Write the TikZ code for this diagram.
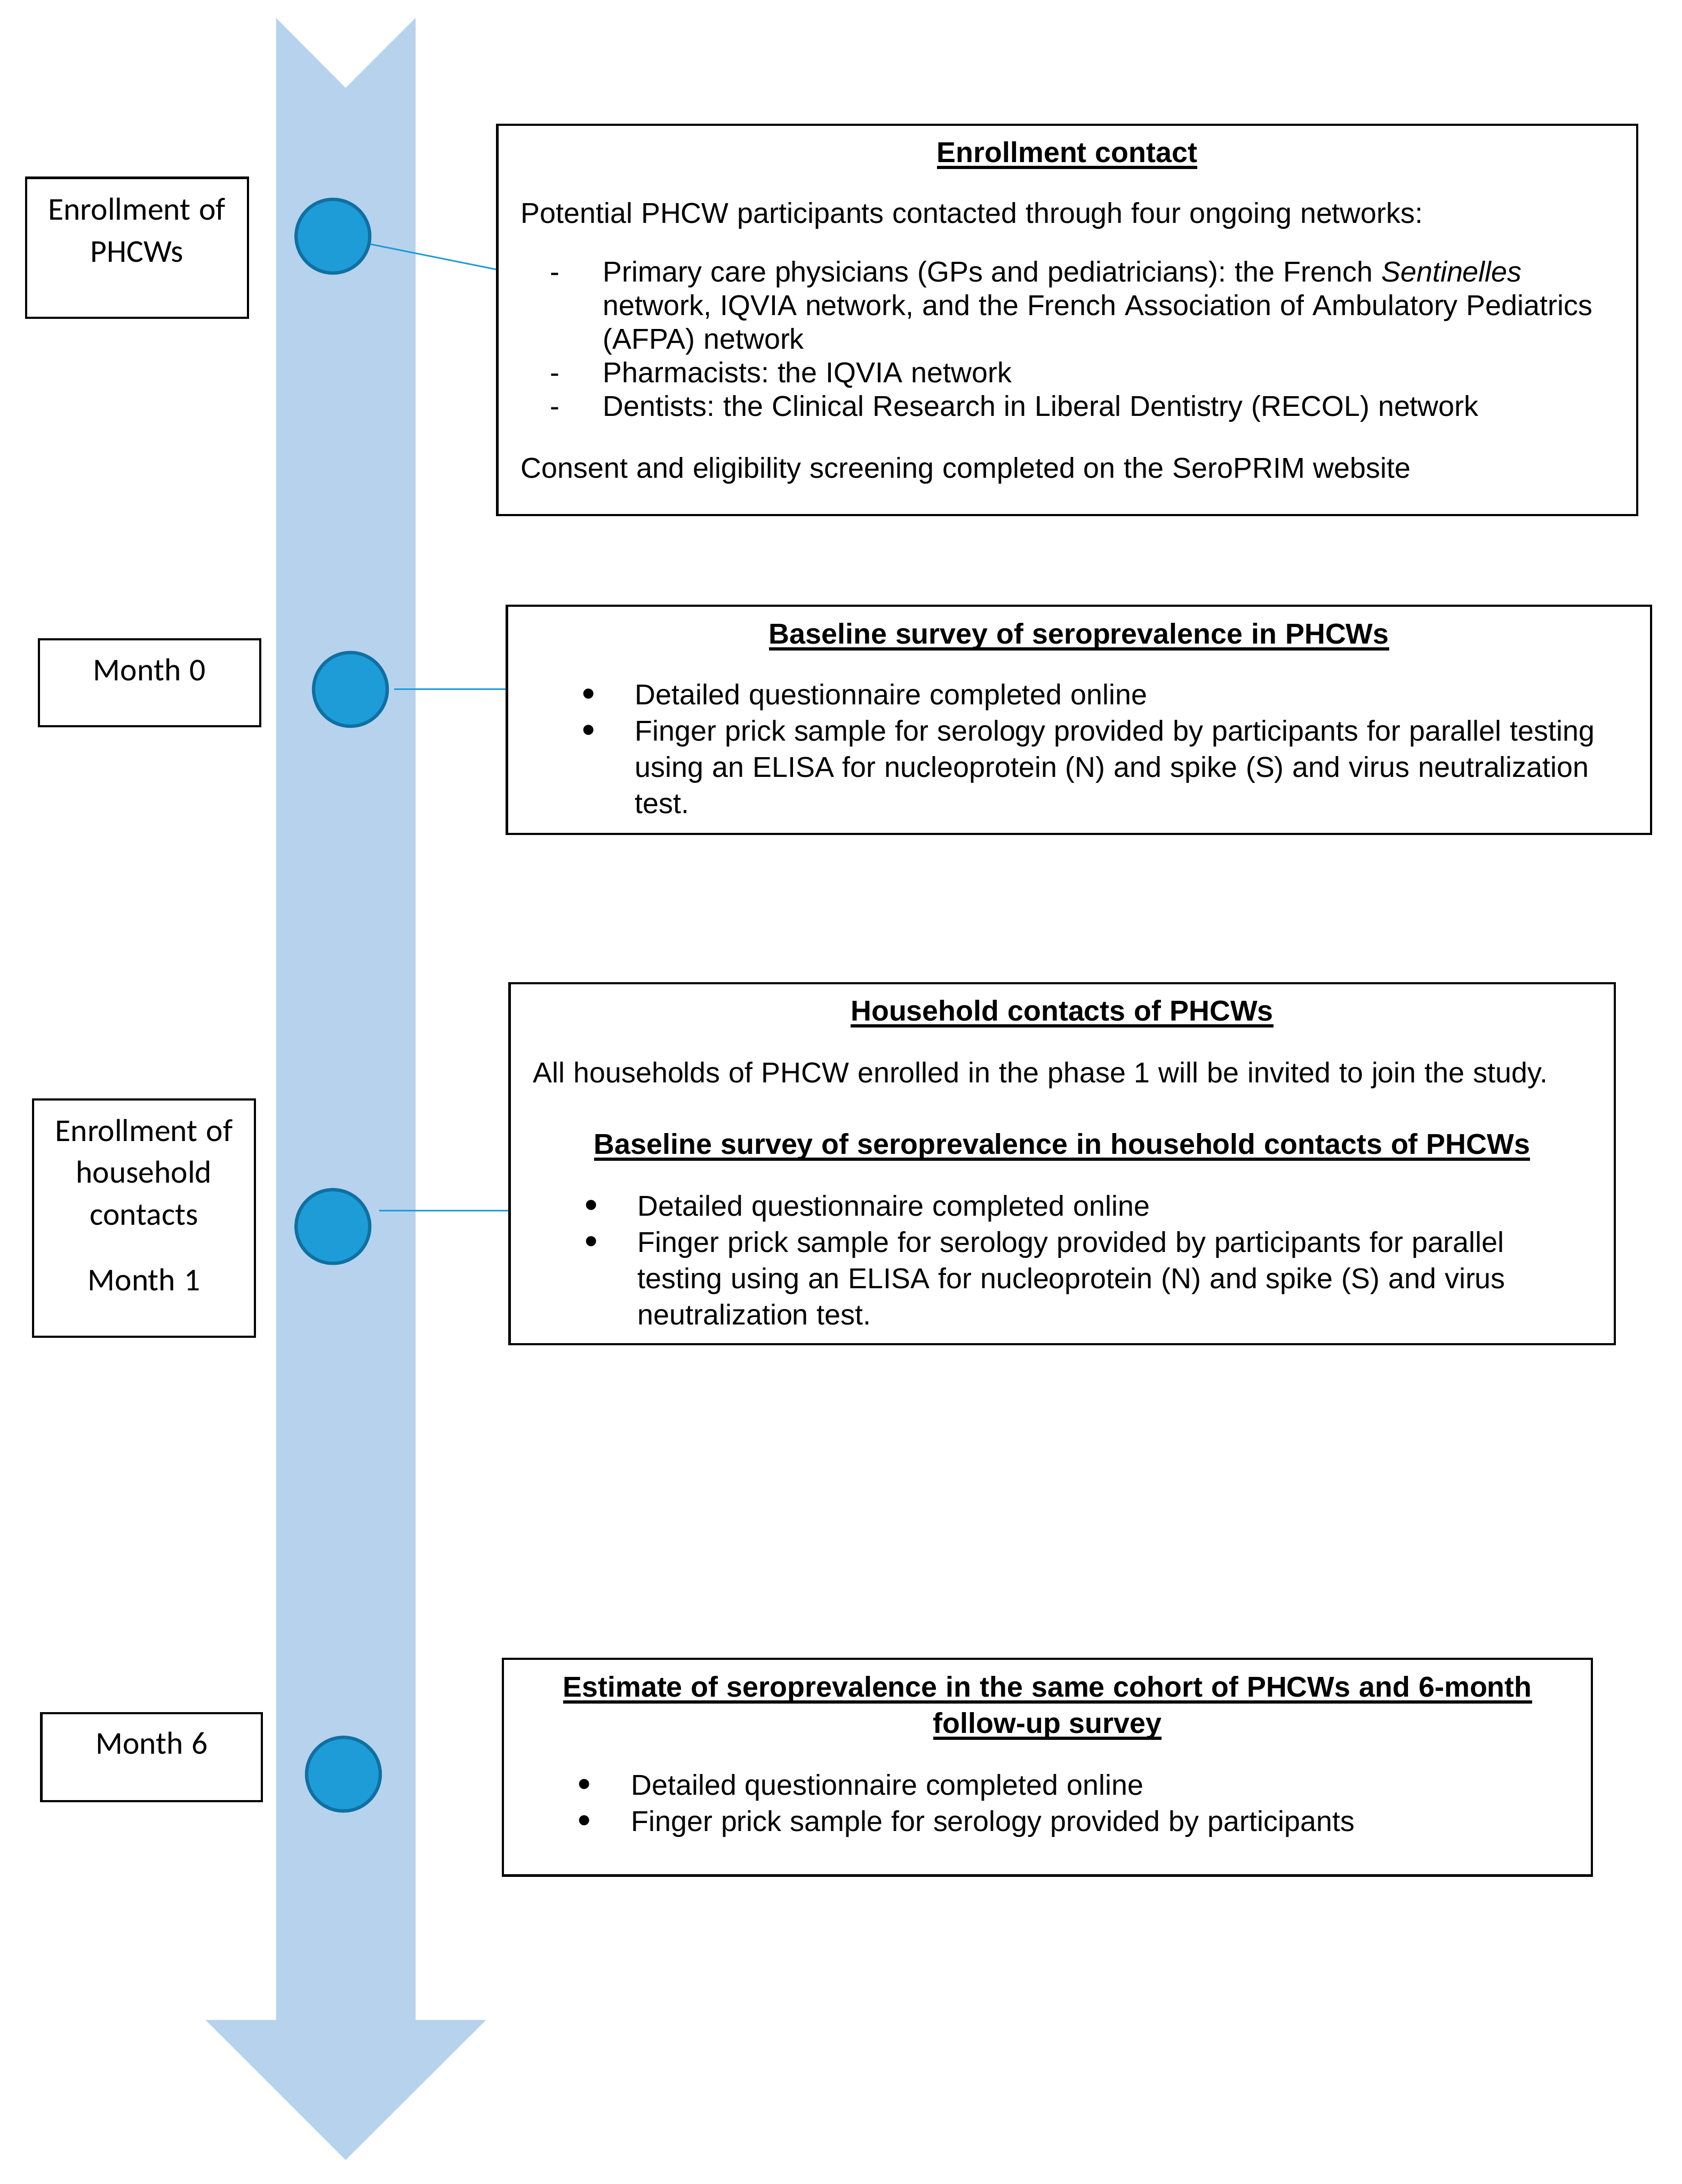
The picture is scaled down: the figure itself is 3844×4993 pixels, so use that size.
\documentclass[tikz,border=0pt]{standalone}
\usepackage{fontspec}
\setmainfont{Liberation Sans}
\newfontfamily\calibri{Carlito}
\usepackage{graphicx}
\usetikzlibrary{calc}
\frenchspacing

\definecolor{timelineblue}{HTML}{B7D2EC}
\definecolor{dotblue}{HTML}{1E9CD8}
\definecolor{dotedge}{HTML}{0F70A2}

% underlined bold heading, Word style
\newsavebox{\headbox}
\newcommand{\headline}[1]{\leavevmode\sbox{\headbox}{\bfseries #1}\rlap{\rule[-2.56pt]{\wd\headbox}{1.2pt}}\usebox{\headbox}}
% #1 mark offset, #2 text offset, #3 mark, #4 text
\newcommand{\markitem}[4]{{\leftskip=#2\relax\noindent\llap{\makebox[\dimexpr#2-#1\relax][l]{#3}}#4\par}}
\newcommand{\dashitem}[1]{\markitem{4.02mm}{11.28mm}{-}{#1}}
\newcommand{\dotitem}[1]{\markitem{7.05mm}{14.34mm}{\raisebox{-0.1ex}{\scalebox{1.3}{\textbullet}}}{#1}}

\tikzset{
  timeline/.style={fill=timelineblue},
  milestone/.style={circle, fill=dotblue, draw=dotedge, line width=1.3pt, minimum size=10.1mm, inner sep=0pt},
  link/.style={draw=dotblue, line width=0.6pt},
  datebox/.style={draw, line width=0.9pt, anchor=north west, inner sep=0pt, align=center,
    execute at begin node={\calibri\fontsize{12.4pt}{5.76mm}\selectfont}},
  infobox/.style={draw, line width=0.9pt, anchor=north west, inner xsep=3.24mm, inner ysep=0pt,
    execute at begin node={\fontsize{11.2pt}{4.98mm}\selectfont}},
}

\begin{document}
\begin{tikzpicture}[x=0.06mm, y=-0.06mm]
\useasboundingbox (0,0) rectangle (3844,4993);

\fill[timeline] (631,41) -- (790,201) -- (950,41) -- (950,4618) -- (1111,4618)
  -- (790,4938) -- (470,4618) -- (631,4618) -- cycle;

% left column
\node[datebox, text width=30.42mm, text height=5.76mm, text depth=13.44mm] (enrolphcw) at (57,404) {Enrollment of\\PHCWs};
\node[datebox, text width=30.36mm, text height=5.64mm, text depth=6.3mm] (month0) at (86,1459) {Month 0};
\node[datebox, text width=30.42mm, text height=5.7mm, text depth=26.82mm] (enrolhh) at (73,2511) {Enrollment of\\household\\contacts\\[3.24mm]Month 1};
\node[datebox, text width=30.24mm, text height=5.58mm, text depth=6.48mm] (month6) at (92,3914) {Month 6};

% milestones
\foreach \n/\x/\y in {1/761/540, 2/801/1576, 3/761/2804, 4/785/4056}
  \node[milestone] (t\n) at (\x,\y) {};

% right column
\node[infobox, text width=149.82mm, text height=5.16mm, text depth=48.36mm,
  execute at begin node={\fontsize{11.2pt}{4.62mm}\selectfont}] (contact) at (1134,283) {%
  {\centering\headline{Enrollment contact}\par}\vspace{3.66mm}%
  Potential PHCW participants contacted through four ongoing networks:\par\vspace{3.42mm}%
  \dashitem{Primary care physicians (GPs and pediatricians): the French \textit{Sentinelles}\\network, IQVIA network, and the French Association of Ambulatory Pediatrics\\(AFPA) network}%
  \dashitem{Pharmacists: the IQVIA network}%
  \dashitem{Dentists: the Clinical Research in Liberal Dentistry (RECOL) network}%
  \vspace{3.84mm}%
  Consent and eligibility screening completed on the SeroPRIM website};

\node[infobox, text width=150.42mm, text height=5.22mm, text depth=26.1mm] (baseline) at (1156,1382) {%
  {\centering\headline{Baseline survey of seroprevalence in PHCWs}\par}\vspace{3.36mm}%
  \dotitem{Detailed questionnaire completed online}%
  \dotitem{Finger prick sample for serology provided by participants for parallel testing\\using an ELISA for nucleoprotein (N) and spike (S) and virus neutralization\\test.}};

\node[infobox, text width=145.08mm, text height=5.16mm, text depth=44.34mm] (household) at (1162,2245) {%
  {\centering\headline{Household contacts of PHCWs}\par}\vspace{3.54mm}%
  All households of PHCW enrolled in the phase 1 will be invited to join the study.\par\vspace{4.8mm}%
  {\centering\headline{Baseline survey of seroprevalence in household contacts of PHCWs}\par}\vspace{3.48mm}%
  \dotitem{Detailed questionnaire completed online}%
  \dotitem{Finger prick sample for serology provided by participants for parallel\\testing using an ELISA for nucleoprotein (N) and spike (S) and virus\\neutralization test.}};

\node[infobox, text width=142.86mm, text height=5.22mm, text depth=24.48mm] (followup) at (1147,3790) {%
  {\centering\headline{Estimate of seroprevalence in the same cohort of PHCWs and 6-month}\\\headline{follow-up survey}\par}\vspace{3.48mm}%
  \dotitem{Detailed questionnaire completed online}%
  \dotitem{Finger prick sample for serology provided by participants}};

% connectors
\coordinate (l3) at ([shift={(106,-36)}]t3.center);
\draw[link] (t1.-12) -- ($(contact.north west)!0.371!(contact.south west)$);
\draw[link] ([xshift=0.7mm]t2.east) -- (t2.east -| baseline.west);
\draw[link] (l3) -- (l3 -| household.west);
\end{tikzpicture}
\end{document}
